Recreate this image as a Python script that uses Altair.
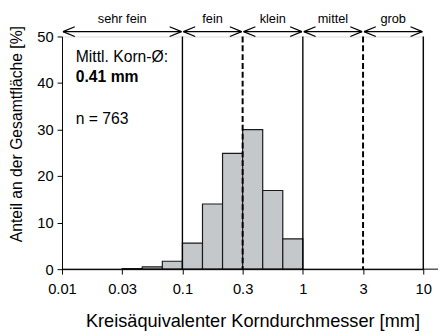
import altair as alt
import pandas as pd

# ---- data ----
bin_lo = [0.0316, 0.0464, 0.0681, 0.1, 0.1468, 0.2154, 0.3162, 0.4642, 0.6813]
bin_hi = [0.0464, 0.0681, 0.1, 0.1468, 0.2154, 0.3162, 0.4642, 0.6813, 1.0]
share = [0.15, 0.5, 1.7, 5.6, 14.0, 24.9, 30.0, 16.9, 6.5]

classes = ["sehr fein", "fein", "klein", "mittel", "grob"]
class_lo = [0.01, 0.1, 0.3162, 1.0, 3.162]
class_hi = [0.1, 0.3162, 1.0, 3.162, 10.0]

bounds = [0.1, 0.3162, 1.0, 3.162, 10.0]
bound_dashed = [False, True, False, True, False]

tick_values = [0.01, 0.03162, 0.1, 0.3162, 1, 3.162, 10]
tick_labels = ["0.01", "0.03", "0.1", "0.3", "1", "3", "10"]

annot = ["Mittl. Korn-Ø:", "0.41 mm", "n = 763"]

FONT = "Liberation Sans"
W, H = 368, 237
AY = -5          # arrow row (pixels above plot top)
HEAD_L, HEAD_H = 12, 5

bars_df = pd.DataFrame({"lo": bin_lo, "hi": bin_hi, "v": share})
cls_df = pd.DataFrame({"name": classes, "lo": class_lo, "hi": class_hi})
bnd_df = pd.DataFrame({"x": bounds, "dashed": bound_dashed, "top": 50, "bot": 0})
one = pd.DataFrame({"k": [0]})

label_expr = " : ".join(
    f"abs(datum.value - {v}) < {v*0.01} ? '{l}'" for v, l in zip(tick_values, tick_labels)
) + " : ''"

xscale = alt.Scale(type="log", domain=[0.01, 10], nice=False)
yscale = alt.Scale(domain=[0, 50], nice=False)

xaxis = alt.Axis(
    values=tick_values, labelExpr=label_expr, title="Kreisäquivalenter Korndurchmesser [mm]",
    grid=False, tickSize=5, labelPadding=8, labelFontSize=15, titleFontSize=18.5,
    labelFont=FONT, titleFont=FONT, titleFontWeight="normal", labelColor="#000",
    titleColor="#000", domainColor="#000", tickColor="#000", titleY=58,
    titleX=194, titleBaseline="alphabetic", labelFlush=False, labelOverlap=False,
)
yaxis = alt.Axis(
    values=[0, 10, 20, 30, 40, 50], title="Anteil an der Gesamtfläche [%]", grid=False,
    tickSize=5, labelPadding=4, labelFontSize=15, titleFontSize=16, labelFont=FONT,
    titleFont=FONT, titleFontWeight="normal", labelColor="#000", titleColor="#000",
    domainColor="#000", tickColor="#000", titleX=-41, titleY=99, titleAngle=270,
    titleAlign="center", titleBaseline="alphabetic",
)

bars = alt.Chart(bars_df).mark_rect(
    fill="#c5c8ca", stroke="#1a1a1a", strokeWidth=1.2
).encode(
    x=alt.X("lo:Q", scale=xscale, axis=xaxis),
    x2="hi:Q",
    y=alt.Y("v:Q", scale=yscale, axis=yaxis),
    y2=alt.datum(0),
)

solid = alt.Chart(bnd_df).transform_filter("!datum.dashed").mark_rule(
    color="#000", strokeWidth=1.4
).encode(x=alt.X("x:Q", scale=xscale), y=alt.Y("top:Q", scale=yscale), y2="bot:Q")

dashed = alt.Chart(bnd_df).transform_filter("datum.dashed").mark_rule(
    color="#000", strokeWidth=2, strokeDash=[6, 3]
).encode(x=alt.X("x:Q", scale=xscale), y=alt.Y("top:Q", scale=yscale), y2="bot:Q")

baseline_ext = alt.Chart(one).mark_rule(color="#000", strokeWidth=1).encode(
    x=alt.value(0), x2=alt.value(W + 15), y=alt.value(H)
)

arrow_line = alt.Chart(cls_df).mark_rule(
    color="#000", strokeWidth=1.2, xOffset=1, x2Offset=-1
).encode(x=alt.X("lo:Q", scale=xscale), x2="hi:Q", y=alt.value(AY))


def head(field, direction, sign):
    return alt.Chart(cls_df).mark_rule(
        color="#000", strokeWidth=1.2, xOffset=direction, x2Offset=direction * (HEAD_L + 1)
    ).encode(
        x=alt.X(f"{field}:Q", scale=xscale), x2=f"{field}:Q",
        y=alt.value(AY), y2=alt.value(AY + sign * HEAD_H),
    )


heads = [head("lo", 1, -1), head("lo", 1, 1), head("hi", -1, -1), head("hi", -1, 1)]

arrow_text = alt.Chart(cls_df).transform_calculate(
    mid="sqrt(datum.lo * datum.hi)"
).mark_text(font=FONT, fontSize=13, color="#000", baseline="alphabetic", align="center").encode(
    x=alt.X("mid:Q", scale=xscale), y=alt.value(-14), text="name:N"
)

t1 = alt.Chart(one).mark_text(
    font=FONT, fontSize=16, color="#000", align="left", baseline="alphabetic"
).encode(x=alt.value(14), y=alt.value(26), text=alt.value(annot[0]))
t2 = alt.Chart(one).mark_text(
    font=FONT, fontSize=16, fontWeight="bold", color="#000", align="left", baseline="alphabetic"
).encode(x=alt.value(14), y=alt.value(46), text=alt.value(annot[1]))
t3 = alt.Chart(one).mark_text(
    font=FONT, fontSize=16, color="#000", align="left", baseline="alphabetic"
).encode(x=alt.value(14), y=alt.value(89), text=alt.value(annot[2]))

chart = alt.layer(
    bars, baseline_ext, solid, dashed, arrow_line, *heads, arrow_text, t1, t2, t3
).properties(
    width=W, height=H,
    autosize=alt.AutoSizeParams(type="none"),
    padding={"left": 55, "top": 26, "right": 15, "bottom": 62},
).configure_view(stroke=None).configure(background="white")

chart.save("out.html", embed_options={"renderer": "svg", "actions": False})
